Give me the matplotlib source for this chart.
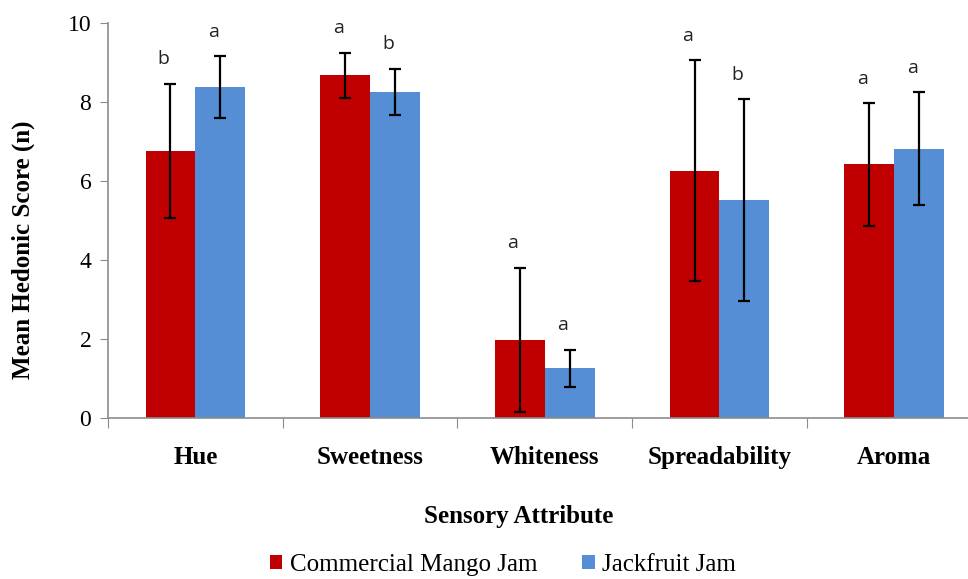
"""Mean hedonic scores of commercial mango jam vs jackfruit jam."""

import matplotlib.pyplot as plt
import numpy as np
from matplotlib.patches import Patch

attributes = ["Hue", "Sweetness", "Whiteness", "Spreadability", "Aroma"]

mango_mean = [6.77, 8.68, 1.98, 6.27, 6.43]
mango_err = [1.70, 0.58, 1.83, 2.80, 1.55]
mango_letters = ["b", "a", "a", "a", "a"]

jack_mean = [8.38, 8.27, 1.27, 5.53, 6.82]
jack_err = [0.78, 0.58, 0.47, 2.55, 1.43]
jack_letters = ["a", "b", "a", "b", "a"]

RED = "#C00000"
BLUE = "#558ED5"
AXIS_GREY = "#8c8c8c"
SERIF = "Liberation Serif"


def main() -> None:
    fig = plt.figure(figsize=(9.68, 5.79), dpi=100)
    ax = fig.add_axes([108 / 968, 1 - 418.3 / 579, 860 / 968, 395 / 579])

    x = np.arange(len(attributes))
    width = 0.285

    err_style = dict(ecolor="black", elinewidth=1.6, capsize=4, capthick=1.6)
    ax.bar(x - width / 2, mango_mean, width, color=RED, yerr=mango_err,
           error_kw=err_style, zorder=2)
    ax.bar(x + width / 2, jack_mean, width, color=BLUE, yerr=jack_err,
           error_kw=err_style, zorder=2)

    # significance letters sit a little above each error bar
    for xs, means, errs, letters in (
        (x - width / 2, mango_mean, mango_err, mango_letters),
        (x + width / 2, jack_mean, jack_err, jack_letters),
    ):
        for xi, m, e, lab in zip(xs, means, errs, letters):
            ax.annotate(lab, (xi, m + e + 0.62), xytext=(-5, 0),
                        textcoords="offset points", ha="center", va="center",
                        fontsize=14, family="Open Sans", color="#222222")

    ax.set_yticks(np.arange(0, 11, 2))
    ax.set_yticklabels([str(v) for v in range(0, 11, 2)], family=SERIF,
                       fontsize=17)

    ax.set_xticks(np.arange(len(attributes) + 1) - 0.5)
    ax.set_xticklabels([])
    ax.set_xticks(x, minor=True)
    ax.set_xticklabels(attributes, minor=True, family=SERIF,
                       fontweight="bold", fontsize=18)
    ax.tick_params(axis="x", which="major", length=7, color=AXIS_GREY,
                   direction="out")
    ax.tick_params(axis="x", which="minor", length=0, pad=20)
    ax.tick_params(axis="y", length=6, color=AXIS_GREY, pad=6)

    # limits after the ticks, otherwise set_xticks widens the view
    ax.set_ylim(0, 10)
    ax.set_xlim(-0.5, -0.5 + 860 / 174.7)

    for side in ("top", "right"):
        ax.spines[side].set_visible(False)
    for side in ("left", "bottom"):
        ax.spines[side].set_color(AXIS_GREY)
        ax.spines[side].set_linewidth(1.2)

    fig.text(23 / 968, 1 - 250 / 579, "Mean Hedonic Score (n)", family=SERIF,
             fontweight="bold", fontsize=18, rotation=90, ha="center",
             va="center")
    fig.text(519 / 968, 1 - 517 / 579, "Sensory Attribute", family=SERIF,
             fontweight="bold", fontsize=18, ha="center", va="center")

    handles = [Patch(facecolor=RED), Patch(facecolor=BLUE)]
    fig.legend(handles, ["Commercial Mango Jam", "Jackfruit Jam"],
               loc="center", bbox_to_anchor=(503 / 968, 1 - 565 / 579), ncol=2,
               frameon=False, prop={"family": SERIF, "size": 18},
               handlelength=0.5, handleheight=0.5, handletextpad=0.3,
               columnspacing=1.8)

    fig.savefig("out.png", dpi=100)
    plt.close(fig)


if __name__ == "__main__":
    main()
